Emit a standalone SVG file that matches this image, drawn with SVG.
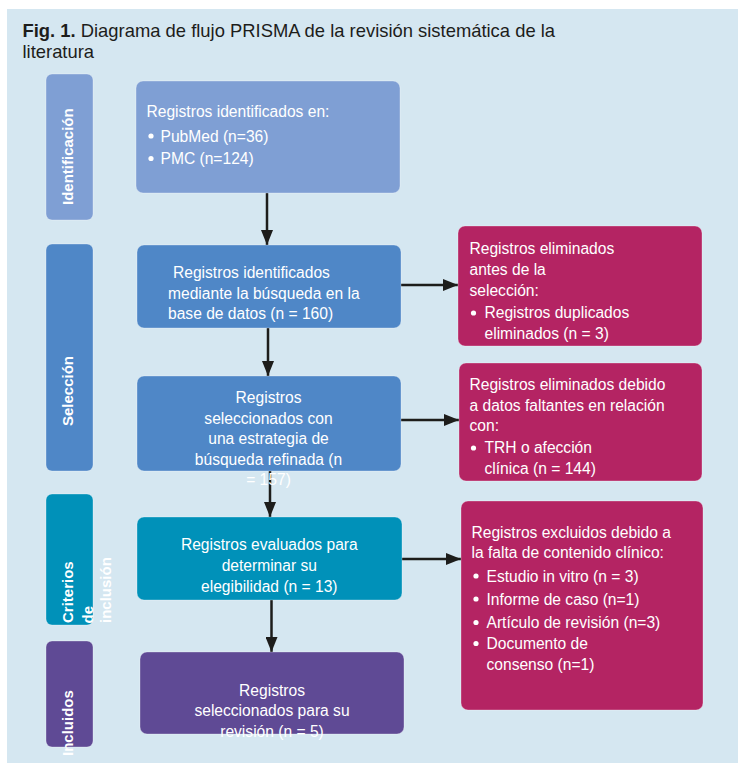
<svg xmlns="http://www.w3.org/2000/svg" width="738" height="763" viewBox="0 0 738 763">
<defs>
<style>
.t{font-family:"Liberation Sans",Arial,sans-serif;font-size:15.6px;fill:#ffffff}
.c{text-anchor:middle}
.side{font-family:"Liberation Sans",Arial,sans-serif;font-size:15px;font-weight:bold;fill:#ffffff}
.title{font-family:"Liberation Sans",Arial,sans-serif;font-size:18.4px;fill:#1d1d1b}
.box{stroke:#ffffff;stroke-opacity:0.3;stroke-width:1}
.conn{stroke:#1d1d1b;stroke-width:2.5;fill:none}
.b{fill:#ffffff}
</style>
<marker id="ah" markerUnits="userSpaceOnUse" markerWidth="15" markerHeight="12" refX="15" refY="6" orient="auto">
<path d="M0,0 L15,6 L0,12 z" fill="#1d1d1b"/>
</marker>
</defs>
<rect x="0" y="0" width="738" height="763" fill="#ffffff"/>
<rect x="7" y="9" width="731" height="754" fill="#d5e7f1"/>
<g id="title">
<text class="title" x="22.5" y="37"><tspan font-weight="bold">Fig. 1.</tspan> Diagrama de flujo PRISMA de la revisión sistemática de la</text>
<text class="title" x="22.5" y="58">literatura</text>
</g>
<g id="connectors">
<line class="conn" x1="267" y1="193" x2="267" y2="245" marker-end="url(#ah)"/>
<line class="conn" x1="268" y1="328" x2="268" y2="376" marker-end="url(#ah)"/>
<line class="conn" x1="270" y1="471" x2="270" y2="517" marker-end="url(#ah)"/>
<line class="conn" x1="271.5" y1="600" x2="271.5" y2="652" marker-end="url(#ah)"/>
<line class="conn" x1="401" y1="285" x2="458" y2="285" marker-end="url(#ah)"/>
<line class="conn" x1="401" y1="420" x2="459" y2="420" marker-end="url(#ah)"/>
<line class="conn" x1="402" y1="559" x2="461" y2="559" marker-end="url(#ah)"/>
</g>
<g id="side-identificacion">
<rect class="box" x="46" y="74" width="47" height="146" rx="6" fill="#7f9fd4"/>
<text class="side" transform="translate(73,205) rotate(-90)">Identificación</text>
</g>
<g id="side-seleccion">
<rect class="box" x="46" y="244" width="47" height="227" rx="6" fill="#4f87c7"/>
<text class="side" transform="translate(73,426) rotate(-90)">Selección</text>
</g>
<g id="side-criterios">
<rect class="box" x="46" y="494" width="47" height="131" rx="6" fill="#0091b9"/>
<text class="side" transform="translate(73,623) rotate(-90)">Criterios</text>
<text class="side" transform="translate(92.5,623.5) rotate(-90)">de</text>
<text class="side" transform="translate(111,623) rotate(-90)">inclusión</text>
</g>
<g id="side-incluidos">
<rect class="box" x="46" y="641" width="47" height="106" rx="6" fill="#5f4a95"/>
<text class="side" transform="translate(73,756) rotate(-90)">Incluidos</text>
</g>
<g id="box-identificados">
<rect class="box" x="136" y="81" width="264" height="112" rx="7" fill="#7f9fd4"/>
<text class="t" x="146.5" y="117">Registros identificados en:</text>
<circle class="b" cx="151" cy="136" r="2.6"/>
<text class="t" x="160.5" y="141.5">PubMed (n=36)</text>
<circle class="b" cx="151" cy="158.5" r="2.6"/>
<text class="t" x="160.5" y="164">PMC (n=124)</text>
</g>
<g id="box-busqueda">
<rect class="box" x="137" y="245" width="264" height="83" rx="7" fill="#4f87c7"/>
<text class="t" x="173" y="278">Registros identificados</text>
<text class="t" x="168" y="298.5">mediante la búsqueda en la</text>
<text class="t" x="168" y="319">base de datos (n = 160)</text>
</g>
<g id="box-refinada">
<rect class="box" x="137" y="376" width="264" height="95" rx="7" fill="#4f87c7"/>
<text class="t c" x="268.5" y="403">Registros</text>
<text class="t c" x="268.5" y="423.5">seleccionados con</text>
<text class="t c" x="268.5" y="444">una estrategia de</text>
<text class="t c" x="268.5" y="464.5">búsqueda refinada (n</text>
<text class="t c" x="268.5" y="485">= 157)</text>
</g>
<g id="box-elegibilidad">
<rect class="box" x="137" y="517" width="265" height="83" rx="7" fill="#0091b9"/>
<text class="t c" x="269.3" y="550">Registros evaluados para</text>
<text class="t c" x="269.3" y="571">determinar su</text>
<text class="t c" x="269.3" y="591.5">elegibilidad (n = 13)</text>
</g>
<g id="box-incluidos">
<rect class="box" x="140" y="652" width="264" height="82" rx="7" fill="#5f4a95"/>
<text class="t c" x="272" y="695.5">Registros</text>
<text class="t c" x="272" y="716">seleccionados para su</text>
<text class="t c" x="272" y="736.5">revisión (n = 5)</text>
</g>
<g id="box-duplicados">
<rect class="box" x="458" y="226" width="244" height="120" rx="7" fill="#b42463"/>
<text class="t" x="469.5" y="253.5">Registros eliminados</text>
<text class="t" x="469.5" y="274.5">antes de la</text>
<text class="t" x="469.5" y="295.5">selección:</text>
<circle class="b" cx="473.5" cy="313" r="2.6"/>
<text class="t" x="484.5" y="318">Registros duplicados</text>
<text class="t" x="484.5" y="338.5">eliminados (n = 3)</text>
</g>
<g id="box-faltantes">
<rect class="box" x="459" y="363" width="243" height="118" rx="7" fill="#b42463"/>
<text class="t" x="469.5" y="390">Registros eliminados debido</text>
<text class="t" x="469.5" y="410.5">a datos faltantes en relación</text>
<text class="t" x="469.5" y="431">con:</text>
<circle class="b" cx="473.5" cy="448" r="2.6"/>
<text class="t" x="484.5" y="453">TRH o afección</text>
<text class="t" x="484.5" y="473.5">clínica (n = 144)</text>
</g>
<g id="box-excluidos">
<rect class="box" x="461" y="501" width="242" height="209" rx="7" fill="#b42463"/>
<text class="t" x="471.5" y="538">Registros excluidos debido a</text>
<text class="t" x="471.5" y="558">la falta de contenido clínico:</text>
<circle class="b" cx="476" cy="576" r="2.6"/>
<text class="t" x="486.5" y="581.5">Estudio in vitro (n = 3)</text>
<circle class="b" cx="476" cy="599" r="2.6"/>
<text class="t" x="486.5" y="604.5">Informe de caso (n=1)</text>
<circle class="b" cx="476" cy="622.5" r="2.6"/>
<text class="t" x="486.5" y="628">Artículo de revisión (n=3)</text>
<circle class="b" cx="476" cy="643.5" r="2.6"/>
<text class="t" x="486.5" y="649">Documento de</text>
<text class="t" x="486.5" y="670">consenso (n=1)</text>
</g>
</svg>
